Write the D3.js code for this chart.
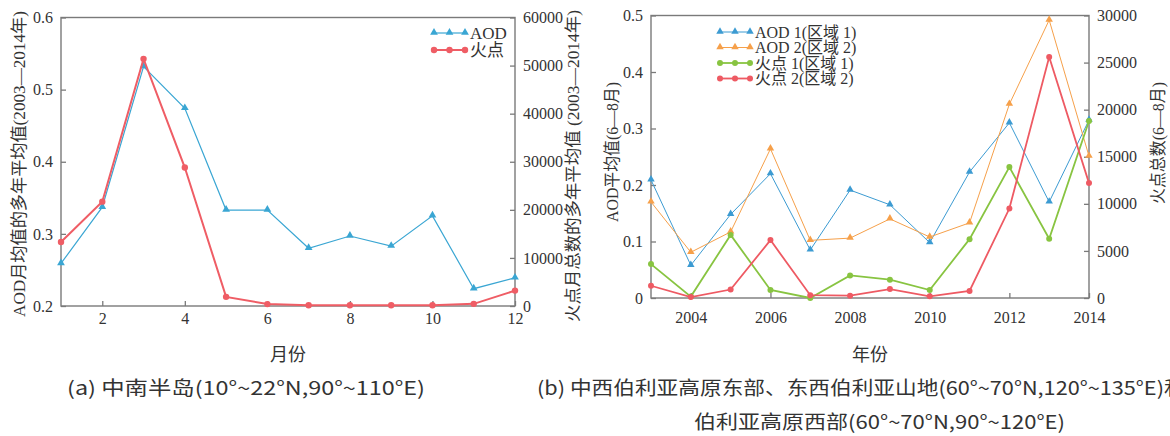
<!DOCTYPE html>
<html>
<head>
<meta charset="utf-8">
<script src="https://cdn.jsdelivr.net/npm/d3@7"></script>
<style>
  body { margin: 0; background: #fff; }
  svg text { fill: #333; }
</style>
</head>
<body>
<svg id="chart" width="1170" height="436"></svg>
<script>
// ---- data (a): monthly means, 2003-2014 ----
const months = [1, 2, 3, 4, 5, 6, 7, 8, 9, 10, 11, 12];
const aodMonthly = [0.259, 0.337, 0.532, 0.474, 0.333, 0.333, 0.280, 0.297, 0.283, 0.325, 0.224, 0.239];
const fireMonthly = [13300, 21700, 51400, 28800, 1900, 400, 150, 150, 150, 150, 450, 3200];
const monthTicks = [2, 4, 6, 8, 10, 12];

// ---- data (b): Jun-Aug, per year ----
const years = [2003, 2004, 2005, 2006, 2007, 2008, 2009, 2010, 2011, 2012, 2013, 2014];
const aod1 = [0.209, 0.058, 0.148, 0.220, 0.085, 0.191, 0.165, 0.098, 0.223, 0.310, 0.170, 0.315];
const aod2 = [0.170, 0.081, 0.117, 0.264, 0.102, 0.106, 0.140, 0.108, 0.133, 0.343, 0.492, 0.251];
const fire1 = [3600, 150, 6700, 850, 0, 2400, 1950, 850, 6250, 13900, 6300, 18800];
const fire2 = [1300, 100, 900, 6150, 300, 250, 950, 180, 750, 9500, 25600, 12200];
const yearTicks = [2004, 2006, 2008, 2010, 2012, 2014];

const SERIF = '"Liberation Serif", "Times New Roman", "Noto Sans CJK SC", serif';
const SANS = '"Noto Sans CJK SC", sans-serif';
const AXIS_COL = '#7a7a7a';

const svg = d3.select('#chart');

function drawPanel(p) {
  const g = svg.append('g');
  const { x, yL, yR } = p;
  const [x0, x1] = x.range();
  const [yb, yt] = yL.range();

  // frame
  g.append('rect')
    .attr('x', x0).attr('y', yt).attr('width', x1 - x0).attr('height', yb - yt)
    .attr('fill', 'none').attr('stroke', AXIS_COL).attr('stroke-width', 1.4);

  const styleAxis = sel => {
    sel.select('.domain').remove();
    sel.selectAll('line').attr('stroke', AXIS_COL).attr('stroke-width', 1.3);
    sel.selectAll('text').style('font-family', SERIF).attr('font-size', 16).attr('fill', '#333');
  };

  g.append('g').attr('transform', `translate(0,${yb})`)
    .call(d3.axisBottom(x).tickValues(p.xTicks).tickSize(-5).tickPadding(p.xPad).tickFormat(d3.format('d')))
    .call(styleAxis);
  g.append('g').attr('transform', `translate(${x0},0)`)
    .call(d3.axisLeft(yL).tickValues(p.yLTicks).tickSize(-5).tickPadding(8).tickFormat(p.yLFormat))
    .call(styleAxis);
  g.append('g').attr('transform', `translate(${x1},0)`)
    .call(d3.axisRight(yR).tickValues(p.yRTicks).tickSize(-5).tickPadding(8).tickFormat(d3.format('d')))
    .call(styleAxis);

  // series
  p.series.forEach(s => {
    const y = s.axis === 'L' ? yL : yR;
    const pts = p.xs.map((d, i) => [x(d), y(s.values[i])]);
    g.append('path')
      .attr('d', d3.line()(pts))
      .attr('fill', 'none').attr('stroke', s.color).attr('stroke-width', s.width);
    drawMarkers(g, pts, s);
  });

  // legend
  const lg = p.legend;
  p.series.forEach((s, i) => {
    const ly = lg.y + i * lg.dy;
    const pts = [0, 0.5, 1].map(t => [lg.x + t * lg.len, ly]);
    g.append('line')
      .attr('x1', lg.x).attr('x2', lg.x + lg.len).attr('y1', ly).attr('y2', ly)
      .attr('stroke', s.color).attr('stroke-width', s.width);
    drawMarkers(g, pts, s);
    g.append('text')
      .attr('x', lg.x + lg.len + 5).attr('y', ly).attr('dy', '0.35em')
      .style('font-family', SERIF).attr('font-size', lg.size)
      .text(s.name);
  });
}

function drawMarkers(g, pts, s) {
  if (s.marker === 'tri') {
    const sym = d3.symbol(d3.symbolTriangle, s.msize);
    g.selectAll(null).data(pts).join('path')
      .attr('transform', d => `translate(${d[0]},${d[1] - 0.5})`)
      .attr('d', sym).attr('fill', s.color);
  } else {
    g.selectAll(null).data(pts).join('circle')
      .attr('cx', d => d[0]).attr('cy', d => d[1]).attr('r', s.msize)
      .attr('fill', s.color);
  }
}

function vTitle(text, cx, cy, len, size) {
  svg.append('text')
    .attr('transform', `translate(${cx},${cy}) rotate(-90)`)
    .attr('text-anchor', 'middle').attr('dy', '0.35em')
    .style('font-family', SERIF).attr('font-size', size)
    .attr('textLength', len).attr('lengthAdjust', 'spacingAndGlyphs')
    .text(text);
}

function caption(text, x, y, len, size, anchor) {
  const t = svg.append('text')
    .attr('x', x).attr('y', y).attr('dy', '0.35em')
    .attr('text-anchor', anchor || 'start')
    .style('font-family', SANS).attr('font-size', size)
    .text(text);
  if (len) t.attr('textLength', len).attr('lengthAdjust', 'spacingAndGlyphs');
}

// ---- panel (a) ----
drawPanel({
  xs: months,
  x: d3.scaleLinear().domain([1, 12]).range([61, 515]),
  yL: d3.scaleLinear().domain([0.2, 0.6]).range([306, 17.5]),
  yR: d3.scaleLinear().domain([0, 60000]).range([306, 17.5]),
  xTicks: monthTicks,
  xPad: 7,
  yLTicks: [0.2, 0.3, 0.4, 0.5, 0.6],
  yLFormat: d3.format('.1f'),
  yRTicks: [0, 10000, 20000, 30000, 40000, 50000, 60000],
  series: [
    { name: 'AOD', values: aodMonthly, axis: 'L', color: '#3aa6d3', width: 1.2, marker: 'tri', msize: 26 },
    { name: '火点', values: fireMonthly, axis: 'R', color: '#ef5d65', width: 2, marker: 'dot', msize: 3.2 }
  ],
  legend: { x: 434, y: 33, dy: 17, len: 31, size: 17 }
});

// ---- panel (b) ----
drawPanel({
  xs: years,
  x: d3.scaleLinear().domain([2003, 2014]).range([651, 1089]),
  yL: d3.scaleLinear().domain([0, 0.5]).range([298, 15.5]),
  yR: d3.scaleLinear().domain([0, 30000]).range([298, 15.5]),
  xTicks: yearTicks,
  xPad: 14,
  yLTicks: [0, 0.1, 0.2, 0.3, 0.4, 0.5],
  yLFormat: d => d === 0 ? '0' : d3.format('.1f')(d),
  yRTicks: [0, 5000, 10000, 15000, 20000, 25000, 30000],
  series: [
    { name: 'AOD 1(区域 1)', values: aod1, axis: 'L', color: '#3c9bd2', width: 1, marker: 'tri', msize: 24 },
    { name: 'AOD 2(区域 2)', values: aod2, axis: 'L', color: '#f6a04a', width: 1, marker: 'tri', msize: 24 },
    { name: '火点 1(区域 1)', values: fire1, axis: 'R', color: '#88c441', width: 1.8, marker: 'dot', msize: 3 },
    { name: '火点 2(区域 2)', values: fire2, axis: 'R', color: '#ee5a63', width: 1.8, marker: 'dot', msize: 3 }
  ],
  legend: { x: 720, y: 32, dy: 15.5, len: 30, size: 16 }
});

// ---- axis titles ----
vTitle('AOD月均值的多年平均值(2003—2014年)', 19, 164, 306, 16.5);
vTitle('火点月总数的多年平均值 (2003—2014年)', 573, 166, 312, 16.5);
vTitle('AOD平均值(6—8月)', 612, 152, 140, 16.5);
vTitle('火点总数(6—8月)', 1158, 143, 122, 16.5);

caption('月份', 288, 355, null, 18, 'middle');
caption('年份', 870, 355, null, 18, 'middle');
caption('(a)  中南半岛(10°~22°N,90°~110°E)', 67, 388, 358, 19);
caption('(b) 中西伯利亚高原东部、东西伯利亚山地(60°~70°N,120°~135°E)和中西', 537, 388, 692, 19);
caption('伯利亚高原西部(60°~70°N,90°~120°E)', 694, 422, 371, 19);
</script>
</body>
</html>
